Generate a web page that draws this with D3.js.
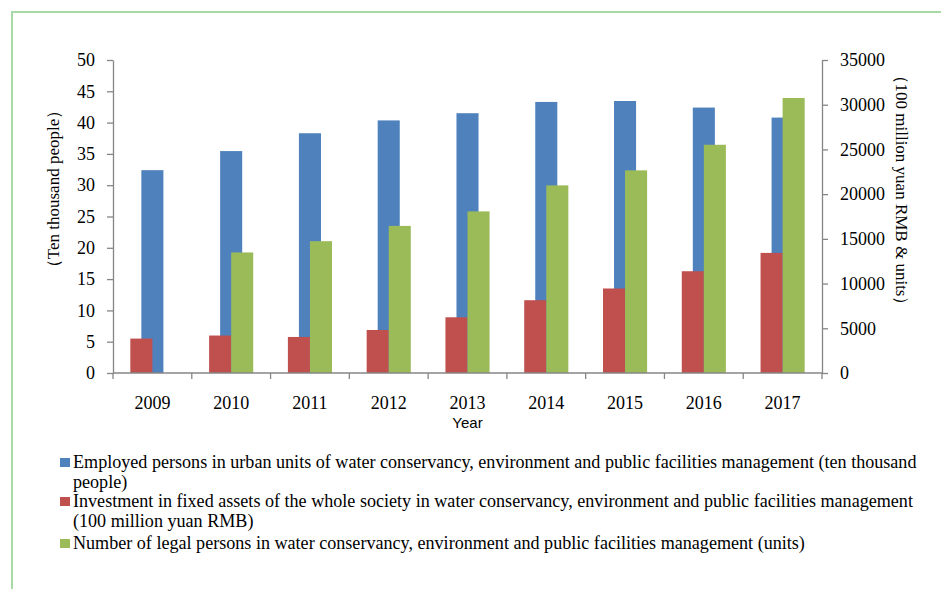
<!DOCTYPE html>
<html>
<head>
<meta charset="utf-8">
<script src="https://cdn.jsdelivr.net/npm/d3@7"></script>
<style>
  html, body { margin: 0; padding: 0; background: #fff; }
  svg { display: block; }
</style>
</head>
<body>
<svg id="chart" width="941" height="589"></svg>
<script>
// Categories and series values
const years = ["2009", "2010", "2011", "2012", "2013", "2014", "2015", "2016", "2017"];
const employed = [32.4, 35.45, 38.3, 40.35, 41.5, 43.3, 43.45, 42.4, 40.8];          // ten thousand people (left axis)
const investment = [3850, 4190, 4030, 4810, 6230, 8140, 9450, 11380, 13430];         // 100 million yuan RMB (right axis)
const legalPersons = [null, 13480, 14740, 16450, 18070, 20980, 22660, 25520, 30750];  // units (right axis)

// Axis ticks
const leftTicks = [0, 5, 10, 15, 20, 25, 30, 35, 40, 45, 50];
const rightTicks = [0, 5000, 10000, 15000, 20000, 25000, 30000, 35000];

// Text
const leftTitle = "（Ten thousand people）";
const rightTitle = "（100 million yuan RMB & units）";
const xTitle = "Year";
const legendItems = [
  { color: "#4f81bd", lines: ["Employed persons in urban units of water conservancy, environment and public facilities management (ten thousand", "people)"] },
  { color: "#c0504d", lines: ["Investment in fixed assets of the whole society in water conservancy, environment and public facilities management", "(100 million yuan RMB)"] },
  { color: "#9bbb59", lines: ["Number of legal persons in water conservancy, environment and public facilities management (units)"] }
];

const svg = d3.select("#chart");
const serif = "'Liberation Serif', 'Times New Roman', serif";
const axisColor = "#868686";

// Outer frame
svg.append("rect")
  .attr("x", 12).attr("y", 12).attr("width", 1200).attr("height", 1200)
  .attr("fill", "none").attr("stroke", "#a6d9a6").attr("stroke-width", 2);

const plot = { left: 113, right: 822, top: 60, bottom: 373 };

const x = d3.scaleBand().domain(years).range([plot.left, plot.right]).paddingInner(0).paddingOuter(0);
const yL = d3.scaleLinear().domain([0, 50]).range([plot.bottom, plot.top]);
const yR = d3.scaleLinear().domain([0, 35000]).range([plot.bottom, plot.top]);
const barW = x.bandwidth() * 0.28;

// Primary-axis bars (drawn first, centred in each category)
svg.append("g").selectAll("rect").data(years).join("rect")
  .attr("x", (d) => x(d) + x.bandwidth() / 2 - barW / 2)
  .attr("y", (d, i) => yL(employed[i]))
  .attr("width", barW)
  .attr("height", (d, i) => yL(0) - yL(employed[i]))
  .attr("fill", "#4f81bd");

// Secondary-axis bars, clustered side by side on top
svg.append("g").selectAll("rect").data(years).join("rect")
  .attr("x", (d) => x(d) + x.bandwidth() / 2 - barW)
  .attr("y", (d, i) => yR(investment[i]))
  .attr("width", barW)
  .attr("height", (d, i) => yR(0) - yR(investment[i]))
  .attr("fill", "#c0504d");

svg.append("g").selectAll("rect").data(years.filter((d, i) => legalPersons[i] != null)).join("rect")
  .attr("x", (d) => x(d) + x.bandwidth() / 2)
  .attr("y", (d) => yR(legalPersons[years.indexOf(d)]))
  .attr("width", barW)
  .attr("height", (d) => yR(0) - yR(legalPersons[years.indexOf(d)]))
  .attr("fill", "#9bbb59");

function styleAxis(g) {
  g.selectAll("path.domain").attr("stroke", axisColor).attr("stroke-width", 1.3);
  g.selectAll(".tick line").attr("stroke", axisColor).attr("stroke-width", 1.3);
  g.selectAll("text").attr("fill", "#000").style("font-family", serif).style("font-size", "18px");
}

// Left axis
svg.append("g")
  .attr("transform", `translate(${plot.left},0)`)
  .call(d3.axisLeft(yL).tickValues(leftTicks).tickFormat(d3.format("d")).tickSize(6).tickPadding(12).tickSizeOuter(0))
  .call(styleAxis);

// Right axis
svg.append("g")
  .attr("transform", `translate(${plot.right},0)`)
  .call(d3.axisRight(yR).tickValues(rightTicks).tickFormat(d3.format("d")).tickSize(6).tickPadding(12).tickSizeOuter(0))
  .call(styleAxis);

// Category axis: ticks sit on category boundaries
const xAxis = svg.append("g").attr("transform", `translate(0,${plot.bottom})`);
xAxis.append("line")
  .attr("x1", plot.left).attr("x2", plot.right)
  .attr("stroke", axisColor).attr("stroke-width", 1.3);
const boundaries = years.map((d) => x(d)).concat([plot.right]);
xAxis.selectAll("line.tk").data(boundaries).join("line")
  .attr("class", "tk")
  .attr("x1", (d) => d).attr("x2", (d) => d)
  .attr("y1", 0).attr("y2", 6)
  .attr("stroke", axisColor).attr("stroke-width", 1.3);
xAxis.selectAll("text").data(years).join("text")
  .attr("x", (d) => x(d) + x.bandwidth() / 2)
  .attr("y", 36)
  .attr("text-anchor", "middle")
  .style("font-family", serif).style("font-size", "18px")
  .text((d) => d);

// Axis titles
svg.append("text")
  .attr("transform", "translate(59,189) rotate(-90)")
  .attr("text-anchor", "middle")
  .style("font-family", serif).style("font-size", "17px")
  .text(leftTitle);

svg.append("text")
  .attr("transform", "translate(896,190) rotate(90)")
  .attr("text-anchor", "middle")
  .style("font-family", serif).style("font-size", "17px")
  .text(rightTitle);

svg.append("text")
  .attr("x", (plot.left + plot.right) / 2)
  .attr("y", 428)
  .attr("text-anchor", "middle")
  .style("font-family", "'Liberation Sans', Arial, sans-serif").style("font-size", "15px")
  .text(xTitle);

// Legend
const baselines = [[468, 488], [507, 527], [549]];
const legend = svg.append("g");
legendItems.forEach((item, i) => {
  legend.append("rect")
    .attr("x", 60).attr("y", baselines[i][0] - 10)
    .attr("width", 10).attr("height", 9)
    .attr("fill", item.color);
  item.lines.forEach((line, j) => {
    legend.append("text")
      .attr("x", 73).attr("y", baselines[i][j])
      .style("font-family", serif).style("font-size", "18.1px")
      .text(line);
  });
});
</script>
</body>
</html>
